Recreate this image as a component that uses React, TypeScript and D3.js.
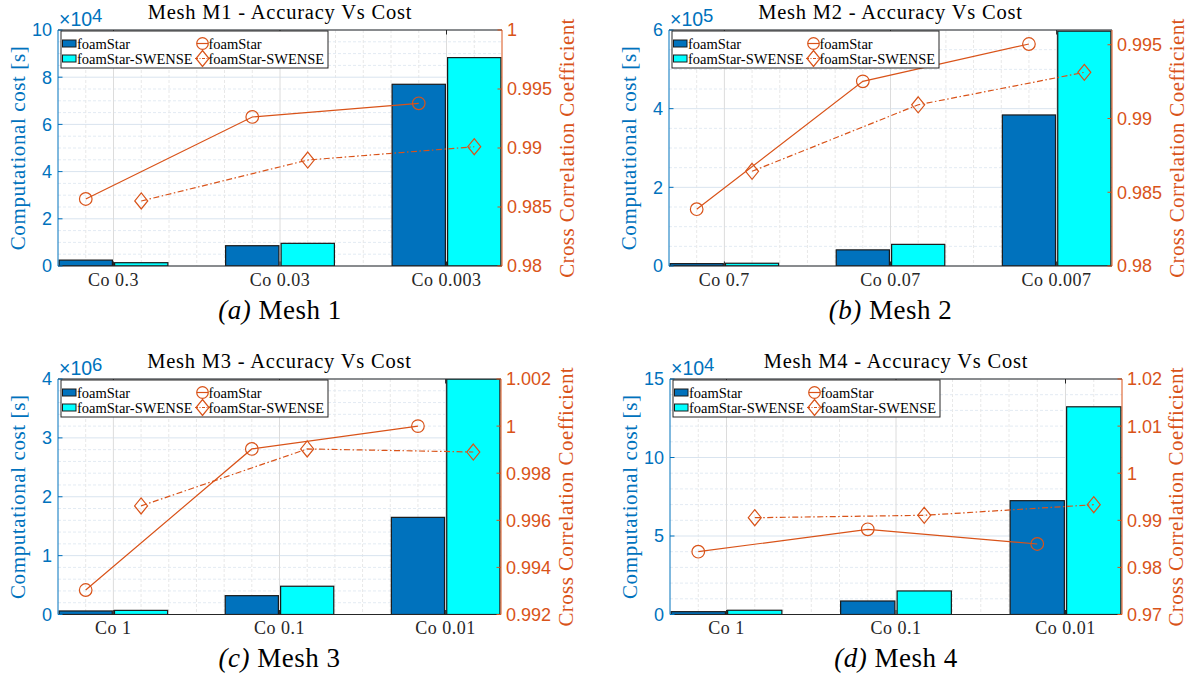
import React from "react";
import * as d3 from "d3";

// ---------- data ----------
const categoriesM1 = ["Co 0.3", "Co 0.03", "Co 0.003"];
const categoriesM2 = ["Co 0.7", "Co 0.07", "Co 0.007"];
const categoriesM3 = ["Co 1", "Co 0.1", "Co 0.01"];
const categoriesM4 = ["Co 1", "Co 0.1", "Co 0.01"];

// computational cost (in units of 10^exp seconds)
const costFoamM1 = [0.25, 0.86, 7.7];
const costSwenseM1 = [0.14, 0.96, 8.83];
const costFoamM2 = [0.06, 0.41, 3.84];
const costSwenseM2 = [0.07, 0.55, 5.97];
const costFoamM3 = [0.06, 0.32, 1.65];
const costSwenseM3 = [0.07, 0.48, 4.0];
const costFoamM4 = [0.18, 0.86, 7.25];
const costSwenseM4 = [0.27, 1.5, 13.23];

// cross correlation coefficient
const ccFoamM1 = [0.98568, 0.99263, 0.99379];
const ccSwenseM1 = [0.98551, 0.98898, 0.99011];
const ccFoamM2 = [0.98385, 0.99252, 0.99505];
const ccSwenseM2 = [0.98642, 0.99093, 0.99313];
const ccFoamM3 = [0.99304, 0.99903, 1.0];
const ccSwenseM3 = [0.99661, 0.99903, 0.9989];
const ccFoamM4 = [0.98333, 0.98809, 0.98497];
const ccSwenseM4 = [0.99055, 0.99106, 0.99331];

const titles = [
  "Mesh M1 - Accuracy Vs Cost",
  "Mesh M2 - Accuracy Vs Cost",
  "Mesh M3 - Accuracy Vs Cost",
  "Mesh M4 - Accuracy Vs Cost",
];
const captionTags = ["(a)", "(b)", "(c)", "(d)"];
const captionTexts = ["Mesh 1", "Mesh 2", "Mesh 3", "Mesh 4"];
const exponents = [4, 5, 6, 4];
// left axis [max, major step, minor subdivisions]
const leftAxes = [
  [10, 2, 4],
  [6, 2, 4],
  [4, 1, 5],
  [15, 5, 5],
];
// right axis [min, max, step]
const rightAxes = [
  [0.98, 1.0, 0.005],
  [0.98, 0.996, 0.005],
  [0.992, 1.002, 0.002],
  [0.97, 1.02, 0.01],
];
const legendLabels = ["foamStar", "foamStar-SWENSE"];

// ---------- style ----------
const BLUE = "#0072BD";
const CYAN = "#00FFFF";
const ORANGE = "#D95319";
const DARK = "#262626";
const SERIF = "'Liberation Serif', 'Times New Roman', serif";
const SANS = "'Liberation Sans', Arial, Helvetica, sans-serif";

const layout = [
  { left: 58, right: 502, top: 30, bottom: 266, rlab: 71.5 },
  { left: 669, right: 1112, top: 30, bottom: 266, rlab: 72 },
  { left: 58, right: 501, top: 379, bottom: 614.5, rlab: 72 },
  { left: 670, right: 1122, top: 379, bottom: 614.5, rlab: 61 },
];

const panelsData = [
  { cats: categoriesM1, cf: costFoamM1, cs: costSwenseM1, rf: ccFoamM1, rs: ccSwenseM1 },
  { cats: categoriesM2, cf: costFoamM2, cs: costSwenseM2, rf: ccFoamM2, rs: ccSwenseM2 },
  { cats: categoriesM3, cf: costFoamM3, cs: costSwenseM3, rf: ccFoamM3, rs: ccSwenseM3 },
  { cats: categoriesM4, cf: costFoamM4, cs: costSwenseM4, rf: ccFoamM4, rs: ccSwenseM4 },
];

const BAR_OFF = 1 / 6;
const BAR_W = 0.32;

const fmt = (v: number) => String(+v.toFixed(4));

function diamond(cx: number, cy: number) {
  return `M${cx},${cy - 8}L${cx + 6.5},${cy}L${cx},${cy + 8}L${cx - 6.5},${cy}Z`;
}

function Panel({ idx }: { idx: number }) {
  const L = layout[idx];
  const D = panelsData[idx];
  const [lmax, lstep, lsub] = leftAxes[idx];
  const [rmin, rmax, rstep] = rightAxes[idx];

  const x = d3.scaleLinear().domain([2 / 3, 10 / 3]).range([L.left, L.right]);
  const yL = d3.scaleLinear().domain([0, lmax]).range([L.bottom, L.top]);
  const yR = d3.scaleLinear().domain([rmin, rmax]).range([L.bottom, L.top]);

  const leftTicks = d3.range(0, Math.round(lmax / lstep) + 1).map((i) => i * lstep);
  const nMinor = Math.round(lmax / (lstep / lsub));
  const leftMinor = d3
    .range(0, nMinor + 1)
    .map((i) => (i * lstep) / lsub)
    .filter((v, i) => i % lsub !== 0);
  const rightTicks = d3
    .range(0, Math.floor((rmax - rmin) / rstep + 1e-6) + 1)
    .map((i) => rmin + i * rstep);
  const xMinor = d3
    .range(4, 21)
    .map((i) => i / 6)
    .filter((v, i) => (i + 4) % 6 !== 0 && i !== 0 && i !== 16);
  const xMajor = [1, 2, 3];

  const lineFoam = d3
    .line<number>()
    .x((d, i) => x(i + 1 - BAR_OFF))
    .y((d) => yR(d));
  const lineSwense = d3
    .line<number>()
    .x((d, i) => x(i + 1 + BAR_OFF))
    .y((d) => yR(d));

  const clipId = `clip${idx}`;
  const cx = (L.left + L.right) / 2;
  const cy = (L.top + L.bottom) / 2;
  const tl = 4.5;

  const lgX = L.left + 3;
  const lgY = L.top + 1;
  const row1 = lgY + 12.5;
  const row2 = lgY + 27.5;

  return (
    <g>
      <defs>
        <clipPath id={clipId}>
          <rect x={L.left} y={L.top} width={L.right - L.left} height={L.bottom - L.top} />
        </clipPath>
      </defs>
      <rect x={L.left} y={L.top} width={L.right - L.left} height={L.bottom - L.top} fill="#fff" />
      {/* minor grid */}
      {leftMinor.map((v) => (
        <line key={"hm" + v} x1={L.left} x2={L.right} y1={yL(v)} y2={yL(v)} stroke="#e3ebf3" strokeWidth={1} strokeDasharray="3 2" />
      ))}
      {xMinor.map((v) => (
        <line key={"vm" + v} x1={x(v)} x2={x(v)} y1={L.top} y2={L.bottom} stroke="#e8e8e8" strokeWidth={1} strokeDasharray="3 2" />
      ))}
      {/* major grid */}
      {leftTicks.map((v) => (
        <line key={"hM" + v} x1={L.left} x2={L.right} y1={yL(v)} y2={yL(v)} stroke="#d9e4ef" strokeWidth={1} />
      ))}
      {xMajor.map((v) => (
        <line key={"vM" + v} x1={x(v)} x2={x(v)} y1={L.top} y2={L.bottom} stroke="#dcdcdc" strokeWidth={1} />
      ))}
      {/* bars */}
      <g clipPath={`url(#${clipId})`}>
        {D.cf.map((v, i) => (
          <rect
            key={"bf" + i}
            x={x(i + 1 - BAR_OFF - BAR_W / 2)}
            y={yL(v)}
            width={x(i + 1 - BAR_OFF + BAR_W / 2) - x(i + 1 - BAR_OFF - BAR_W / 2)}
            height={yL(0) - yL(v)}
            fill={BLUE}
            stroke="#1a1a1a"
            strokeWidth={1.2}
          />
        ))}
        {D.cs.map((v, i) => (
          <rect
            key={"bs" + i}
            x={x(i + 1 + BAR_OFF - BAR_W / 2)}
            y={yL(v)}
            width={x(i + 1 + BAR_OFF + BAR_W / 2) - x(i + 1 + BAR_OFF - BAR_W / 2)}
            height={yL(0) - yL(v)}
            fill={CYAN}
            stroke="#1a1a1a"
            strokeWidth={1.2}
          />
        ))}
        {/* lines */}
        <path d={lineFoam(D.rf) || ""} fill="none" stroke={ORANGE} strokeWidth={1.2} />
        <path d={lineSwense(D.rs) || ""} fill="none" stroke={ORANGE} strokeWidth={1.2} strokeDasharray="6 2.5 1.5 2.5" />
        {D.rf.map((v, i) => (
          <circle key={"mc" + i} cx={x(i + 1 - BAR_OFF)} cy={yR(v)} r={6.3} fill="none" stroke={ORANGE} strokeWidth={1.2} />
        ))}
        {D.rs.map((v, i) => (
          <path key={"md" + i} d={diamond(x(i + 1 + BAR_OFF), yR(v))} fill="none" stroke={ORANGE} strokeWidth={1.2} />
        ))}
      </g>
      {/* box */}
      <line x1={L.left} x2={L.right} y1={L.top} y2={L.top} stroke={DARK} strokeWidth={1} />
      <line x1={L.left} x2={L.right} y1={L.bottom} y2={L.bottom} stroke={DARK} strokeWidth={1} />
      <line x1={L.left} x2={L.left} y1={L.top} y2={L.bottom} stroke={BLUE} strokeWidth={1} />
      <line x1={L.right} x2={L.right} y1={L.top} y2={L.bottom} stroke={ORANGE} strokeWidth={1} />
      {/* x ticks */}
      {xMajor.map((v, i) => (
        <g key={"xt" + v}>
          <line x1={x(v)} x2={x(v)} y1={L.bottom} y2={L.bottom - tl} stroke={DARK} />
          <line x1={x(v)} x2={x(v)} y1={L.top} y2={L.top + tl} stroke={DARK} />
          <text x={x(v)} y={L.bottom + 19.5} textAnchor="middle" fontFamily={SERIF} fontSize={18} letterSpacing={0.5} fill={DARK}>
            {D.cats[i]}
          </text>
        </g>
      ))}
      {/* left ticks */}
      {leftTicks.map((v) => (
        <g key={"lt" + v}>
          <line x1={L.left} x2={L.left + tl} y1={yL(v)} y2={yL(v)} stroke={BLUE} />
          <text x={L.left - 6} y={yL(v)} dy="0.36em" textAnchor="end" fontFamily={SANS} fontSize={18} fill={BLUE}>
            {fmt(v)}
          </text>
        </g>
      ))}
      {/* right ticks */}
      {rightTicks.map((v) => (
        <g key={"rt" + v}>
          <line x1={L.right} x2={L.right - tl} y1={yR(v)} y2={yR(v)} stroke={ORANGE} />
          <text x={L.right + 5} y={yR(v)} dy="0.36em" textAnchor="start" fontFamily={SANS} fontSize={18} fill={ORANGE}>
            {fmt(v)}
          </text>
        </g>
      ))}
      {/* exponent */}
      <text x={L.left + 1} y={L.top - 4.5} fontFamily={SANS} fontSize={19.5} fill={BLUE}>
        ×10
        <tspan dy={-3.5} fontSize={18.5}>
          {exponents[idx]}
        </tspan>
      </text>
      {/* title */}
      <text x={cx} y={L.top - 11.5} textAnchor="middle" fontFamily={SERIF} fontSize={20.5} letterSpacing={0.8} fill="#000">
        {titles[idx]}
      </text>
      {/* axis labels */}
      <text
        transform={`translate(${L.left - 33},${cy}) rotate(-90)`}
        textAnchor="middle"
        fontFamily={SERIF}
        fontSize={21}
        letterSpacing={0.6}
        fill={BLUE}
      >
        Computational cost  [s]
      </text>
      <text
        transform={`translate(${L.right + L.rlab},${cy}) rotate(-90)`}
        textAnchor="middle"
        fontFamily={SERIF}
        fontSize={21}
        letterSpacing={0.4}
        fill={ORANGE}
      >
        Cross Correlation Coefficient
      </text>
      {/* legend */}
      <rect x={lgX} y={lgY} width={267} height={37} fill="#fff" stroke={DARK} strokeWidth={1} />
      <rect x={lgX + 1.5} y={row1 - 3.5} width={13.5} height={7} fill={BLUE} stroke="#1a1a1a" strokeWidth={1} />
      <rect x={lgX + 1.5} y={row2 - 3.5} width={13.5} height={7} fill={CYAN} stroke="#1a1a1a" strokeWidth={1} />
      <text x={lgX + 16} y={row1 + 5} fontFamily={SERIF} fontSize={14.5} fill="#000">
        {legendLabels[0]}
      </text>
      <text x={lgX + 16} y={row2 + 5} fontFamily={SERIF} fontSize={14.5} fill="#000">
        {legendLabels[1]}
      </text>
      <line x1={lgX + 136} x2={lgX + 147} y1={row1} y2={row1} stroke={ORANGE} strokeWidth={1.2} />
      <circle cx={lgX + 141.5} cy={row1} r={5.8} fill="none" stroke={ORANGE} strokeWidth={1.2} />
      <line x1={lgX + 134} x2={lgX + 149} y1={row2} y2={row2} stroke={ORANGE} strokeWidth={1.2} strokeDasharray="3 1.5 1 1.5" />
      <path d={diamond(lgX + 141.5, row2)} fill="none" stroke={ORANGE} strokeWidth={1.2} />
      <text x={lgX + 147.5} y={row1 + 5} fontFamily={SERIF} fontSize={14.5} fill="#000">
        {legendLabels[0]}
      </text>
      <text x={lgX + 147.5} y={row2 + 5} fontFamily={SERIF} fontSize={14.5} fill="#000">
        {legendLabels[1]}
      </text>
      {/* caption */}
      <text x={cx} y={L.bottom + 52.5} textAnchor="middle" fontFamily={SERIF} fontSize={27} letterSpacing={0.5} fill="#000">
        <tspan fontStyle="italic">{captionTags[idx]}</tspan> {captionTexts[idx]}
      </text>
    </g>
  );
}

export default function App() {
  return (
    <svg
      width={1190}
      height={679}
      viewBox="0 0 1190 679"
      style={{ position: "absolute", left: 0, top: 0, background: "#fff" }}
    >
      <rect width={1190} height={679} fill="#fff" />
      {[0, 1, 2, 3].map((i) => (
        <Panel key={i} idx={i} />
      ))}
    </svg>
  );
}
